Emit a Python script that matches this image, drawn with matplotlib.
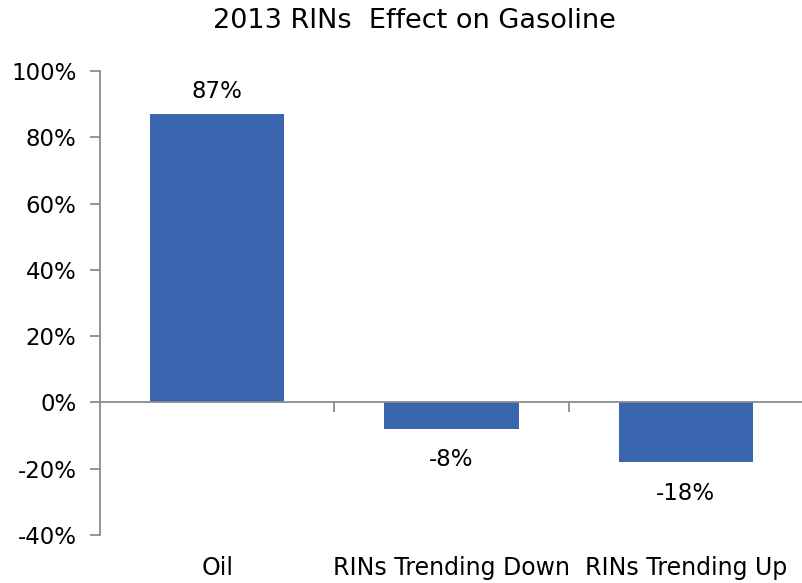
import matplotlib
matplotlib.use("Agg")
import matplotlib.pyplot as plt
import matplotlib.transforms as mtransforms
import numpy as np

categories = ["Oil", "RINs Trending Down", "RINs Trending Up"]
values = [87, -8, -18]
labels = ["87%", "-8%", "-18%"]
yticks = [-40, -20, 0, 20, 40, 60, 80, 100]
ytick_labels = ["-40%", "-20%", "0%", "20%", "40%", "60%", "80%", "100%"]
title = "2013 RINs  Effect on Gasoline"

bar_color = "#3A66B0"
axis_color = "#8C8C8C"
fs = 16.5

fig = plt.figure(figsize=(8.03, 5.83), dpi=100)
ax = fig.add_axes([100/803, 48/583, 1 - 100/803, (535-71)/583])

x = np.arange(len(categories))
ax.bar(x, values, width=0.573, color=bar_color, zorder=2)

ax.set_xlim(-0.5, len(categories) - 0.5)
ax.set_ylim(-40, 100)
ax.set_yticks(yticks)
ax.set_yticklabels(ytick_labels, fontsize=fs, color="black")
ax.tick_params(axis="y", direction="out", length=7, width=1.3, color=axis_color, pad=10)

for s in ["top", "right"]:
    ax.spines[s].set_visible(False)
ax.spines["left"].set_color(axis_color)
ax.spines["left"].set_linewidth(1.3)
ax.spines["bottom"].set_position(("data", 0))
ax.spines["bottom"].set_color(axis_color)
ax.spines["bottom"].set_linewidth(1.3)
ax.spines["bottom"].set_zorder(3)

ax.set_xticks(np.arange(len(categories) - 1) + 0.5)
ax.set_xticklabels([])
ax.tick_params(axis="x", direction="out", length=7, width=1.3, color=axis_color)

trans = mtransforms.blended_transform_factory(ax.transData, ax.transAxes)
for i, c in enumerate(categories):
    ax.text(i, -0.072, c, transform=trans, ha="center", va="center", fontsize=17)

for i, (v, l) in enumerate(zip(values, labels)):
    if v >= 0:
        ax.annotate(l, (i, v), xytext=(0, 23), textcoords="offset pixels",
                    ha="center", va="center", fontsize=fs)
    else:
        ax.annotate(l, (i, v), xytext=(0, -31), textcoords="offset pixels",
                    ha="center", va="center", fontsize=fs)

fig.text(414/803, 1 - 21/583, title, ha="center", va="center", fontsize=19.5)

fig.savefig("out.png", dpi=100)
